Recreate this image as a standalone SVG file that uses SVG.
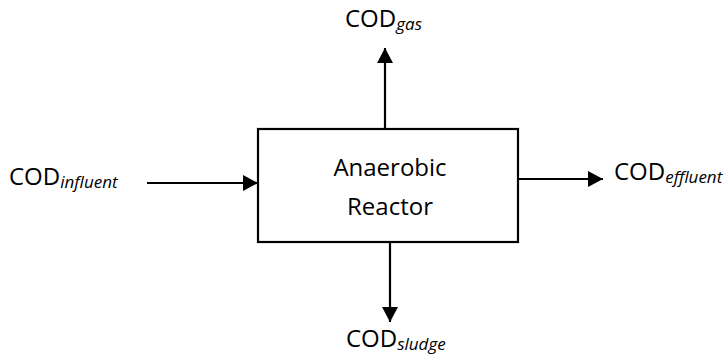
<svg xmlns="http://www.w3.org/2000/svg" width="728" height="360" viewBox="0 0 728 360">
<style>
.lbl{font-family:"Open Sans","Liberation Sans",sans-serif;font-size:24px;fill:#000}
.sub{font-style:italic;font-size:17px}
.edge{stroke:#000;stroke-width:2.2;fill:none}
.box{fill:#fff;stroke:#000;stroke-width:2.2}
</style>
<defs>
<marker id="ah" markerUnits="userSpaceOnUse" markerWidth="16" markerHeight="16" refX="15" refY="8" orient="auto">
<path d="M0,0 L15,8 L0,16 z" fill="#000"/>
</marker>
</defs>
<g id="connectors">
<line class="edge" x1="147" y1="183" x2="258" y2="183" marker-end="url(#ah)"/>
<line class="edge" x1="518" y1="179" x2="603" y2="179" marker-end="url(#ah)"/>
<line class="edge" x1="385" y1="129" x2="385" y2="48" marker-end="url(#ah)"/>
<line class="edge" x1="390" y1="242" x2="390" y2="322" marker-end="url(#ah)"/>
</g>
<g id="reactor">
<rect class="box" x="258" y="129" width="260" height="113"/>
<text class="lbl" x="390" y="176" text-anchor="middle">Anaerobic</text>
<text class="lbl" x="390" y="215" text-anchor="middle">Reactor</text>
</g>
<g id="influent">
<text class="lbl" x="9" y="185">COD<tspan class="sub" dy="3">influent</tspan></text>
</g>
<g id="effluent">
<text class="lbl" x="614" y="180">COD<tspan class="sub" dy="3">effluent</tspan></text>
</g>
<g id="gas">
<text class="lbl" x="345" y="27">COD<tspan class="sub" dy="3">gas</tspan></text>
</g>
<g id="sludge">
<text class="lbl" x="346" y="347">COD<tspan class="sub" dy="3">sludge</tspan></text>
</g>
</svg>
